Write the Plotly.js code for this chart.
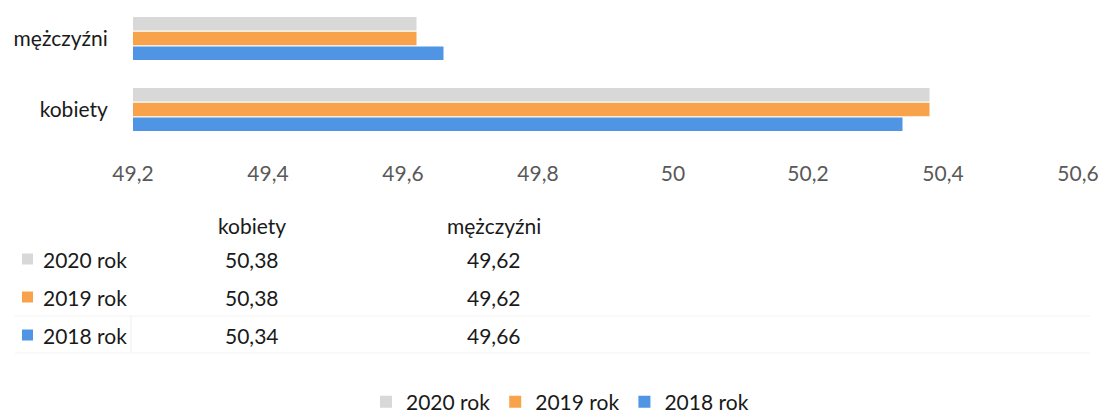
<!DOCTYPE html>
<html>
<head>
<meta charset="utf-8">
<script src="https://cdn.plot.ly/plotly-3.0.1.min.js"></script>
<style>
  html, body { margin: 0; padding: 0; background: #ffffff; }
  #chart { width: 1104px; height: 414px; }
</style>
</head>
<body>
<div id="chart"></div>
<script>
// ---- data ----
const categories = ["kobiety", "mężczyźni"];
const seriesNames = ["2020 rok", "2019 rok", "2018 rok"];
const values2020 = [50.38, 49.62];
const values2019 = [50.38, 49.62];
const values2018 = [50.34, 49.66];
const tickValues = [49.2, 49.4, 49.6, 49.8, 50, 50.2, 50.4, 50.6];

// ---- styling ----
const colors = { "2020 rok": "#d8d8d8", "2019 rok": "#f8a24c", "2018 rok": "#4f95e3" };
const FONT = "Lato, 'Noto Sans', Arial, sans-serif";
const FS = 21;

const W = 1104, H = 414;
const M = { l: 133, r: 26, t: 3, b: 269 };
const plotH = H - M.t - M.b;
const plotW = W - M.l - M.r;
const py = px => (H - M.b - px) / plotH;   // pixel y -> paper y
const pxX = px => (px - M.l) / plotW;      // pixel x -> paper x

const fmt = v => String(v).replace('.', ',');
const fmt2 = v => v.toFixed(2).replace('.', ',');

const seriesValues = { "2020 rok": values2020, "2019 rok": values2019, "2018 rok": values2018 };

// traces: 2018 first so it sits at the bottom of each group
const traceOrder = ["2018 rok", "2019 rok", "2020 rok"];
const traces = traceOrder.map(name => ({
  type: "bar",
  orientation: "h",
  name: name,
  y: categories,
  x: seriesValues[name],
  base: 0,
  marker: { color: colors[name], line: { width: 0 } },
  hoverinfo: "x+name"
}));

// ---- data table below the axis ----
const annotations = [];
const shapes = [];
const colX = { "kobiety": 252, "mężczyźni": 494 };
const headerY = 225;
const rowY = [259, 297, 335];
const textShift = 0;

categories.forEach(c => {
  annotations.push({
    xref: "paper", yref: "paper", x: pxX(colX[c]), y: py(headerY),
    text: c, showarrow: false, xanchor: "center", yanchor: "middle",
    font: { family: FONT, size: FS, color: "#1a1a1a" }
  });
});

seriesNames.forEach((name, i) => {
  annotations.push({
    xref: "paper", yref: "paper", x: pxX(41), y: py(rowY[i] + textShift),
    text: name, showarrow: false, xanchor: "left", yanchor: "middle",
    font: { family: FONT, size: FS, color: "#1a1a1a" }
  });
  shapes.push({
    type: "rect", xref: "paper", yref: "paper",
    x0: pxX(22), x1: pxX(33), y0: py(rowY[i] + 5.5), y1: py(rowY[i] - 5.5),
    fillcolor: colors[name], line: { width: 0 }
  });
  categories.forEach((c, j) => {
    annotations.push({
      xref: "paper", yref: "paper", x: pxX(colX[c]), y: py(rowY[i] + textShift),
      text: fmt2(seriesValues[name][j]), showarrow: false, xanchor: "center", yanchor: "middle",
      font: { family: FONT, size: FS, color: "#1a1a1a" }
    });
  });
});

// faint table borders (as in the scanned reference)
shapes.push({ type: "line", xref: "paper", yref: "paper", x0: pxX(15), x1: pxX(1090), y0: py(316), y1: py(316), line: { color: "#f3f3f3", width: 1 } });
shapes.push({ type: "line", xref: "paper", yref: "paper", x0: pxX(15), x1: pxX(1090), y0: py(353), y1: py(353), line: { color: "#f3f3f3", width: 1 } });
shapes.push({ type: "line", xref: "paper", yref: "paper", x0: pxX(131), x1: pxX(131), y0: py(316), y1: py(353), line: { color: "#efefef", width: 1 } });

const layout = {
  width: W, height: H,
  margin: Object.assign({ autoexpand: false }, M),
  paper_bgcolor: "#ffffff",
  plot_bgcolor: "#ffffff",
  barmode: "group",
  bargap: 0.38,
  bargroupgap: 0.08,
  showlegend: true,
  legend: {
    orientation: "h",
    traceorder: "reversed",
    x: pxX(560), xanchor: "center",
    y: py(402), yanchor: "middle",
    font: { family: FONT, size: FS, color: "#1a1a1a" },
    itemwidth: 30,
    bgcolor: "rgba(0,0,0,0)"
  },
  xaxis: {
    range: [49.2, 50.6],
    tickvals: tickValues,
    ticktext: tickValues.map(fmt),
    showgrid: false, zeroline: false, showline: false,
    ticks: "outside", ticklen: 10, tickcolor: "rgba(0,0,0,0)",
    tickfont: { family: FONT, size: FS, color: "#595959" },
    fixedrange: true
  },
  yaxis: {
    type: "category",
    categoryorder: "array",
    categoryarray: categories,
    range: [-0.5, 1.5],
    showgrid: false, zeroline: false, showline: false,
    ticks: "outside", ticklen: 20, tickcolor: "rgba(0,0,0,0)",
    tickfont: { family: FONT, size: FS, color: "#1a1a1a" },
    fixedrange: true
  },
  annotations: annotations,
  shapes: shapes
};

Plotly.newPlot("chart", traces, layout, { displayModeBar: false, staticPlot: true });
</script>
</body>
</html>
